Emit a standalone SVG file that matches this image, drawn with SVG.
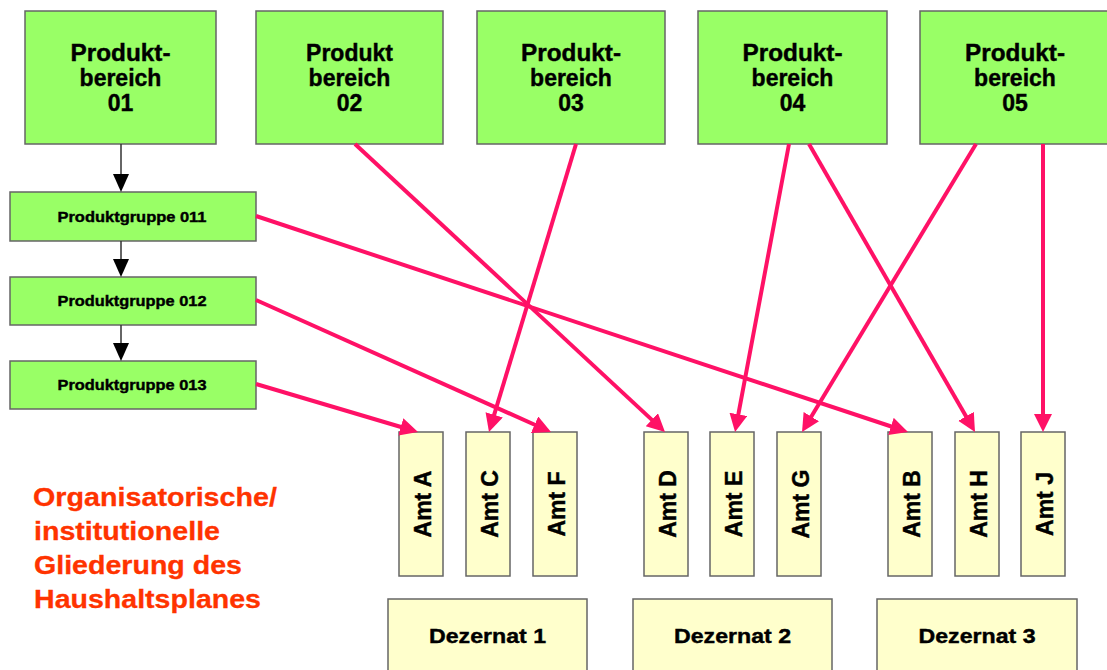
<svg xmlns="http://www.w3.org/2000/svg" width="1107" height="670" viewBox="0 0 1107 670">
<style>
  .pb rect, .pg rect { fill: #99FF66; stroke: #666666; stroke-width: 1.5; }
  .amt rect, .dez rect { fill: #FFFFCC; stroke: #666666; stroke-width: 1.5; }
  text { font-family: "Liberation Sans", Arial, sans-serif; font-weight: bold; fill: #000; stroke: #000; stroke-width: 0.4; }
  .pbt { font-size: 23px; text-anchor: middle; }
  .pgt { font-size: 14.5px; text-anchor: middle; }
  .amtt { font-size: 23px; text-anchor: middle; }
  .dezt { font-size: 20px; text-anchor: middle; }
  .note { font-size: 26px; fill: #FF3300; stroke: #FF3300; stroke-width: 0.3; }
  .red { stroke: #FF1166; stroke-width: 4; fill: none; marker-end: url(#ra); }
  .blk { stroke: #333333; stroke-width: 1.5; fill: none; marker-end: url(#ba); }
</style>
<defs>
  <marker id="ra" markerUnits="userSpaceOnUse" markerWidth="20" markerHeight="20" refX="2" refY="9" orient="auto">
    <path d="M0,0 L18,9 L0,18 z" fill="#FF1166"/>
  </marker>
  <marker id="ba" markerUnits="userSpaceOnUse" markerWidth="20" markerHeight="18" refX="1" refY="8" orient="auto">
    <path d="M0,0 L18,8 L0,16 z" fill="#000"/>
  </marker>
</defs>
<rect width="1107" height="670" fill="#FFFFFF"/>

<g id="pb01" class="pb"><rect x="25" y="11" width="191" height="133"/>
  <text class="pbt" x="120.5" y="61" textLength="100" lengthAdjust="spacingAndGlyphs">Produkt-</text>
  <text class="pbt" x="120.5" y="86">bereich</text>
  <text class="pbt" x="120.5" y="111">01</text></g>
<g id="pb02" class="pb"><rect x="256" y="11" width="187" height="133"/>
  <text class="pbt" x="349.5" y="61">Produkt</text>
  <text class="pbt" x="349.5" y="86">bereich</text>
  <text class="pbt" x="349.5" y="111">02</text></g>
<g id="pb03" class="pb"><rect x="477" y="11" width="188" height="133"/>
  <text class="pbt" x="571" y="61" textLength="100" lengthAdjust="spacingAndGlyphs">Produkt-</text>
  <text class="pbt" x="571" y="86">bereich</text>
  <text class="pbt" x="571" y="111">03</text></g>
<g id="pb04" class="pb"><rect x="698" y="11" width="189" height="133"/>
  <text class="pbt" x="792.5" y="61" textLength="100" lengthAdjust="spacingAndGlyphs">Produkt-</text>
  <text class="pbt" x="792.5" y="86">bereich</text>
  <text class="pbt" x="792.5" y="111">04</text></g>
<g id="pb05" class="pb"><rect x="920" y="11" width="190" height="133"/>
  <text class="pbt" x="1015" y="61" textLength="100" lengthAdjust="spacingAndGlyphs">Produkt-</text>
  <text class="pbt" x="1015" y="86">bereich</text>
  <text class="pbt" x="1015" y="111">05</text></g>

<g id="pg011" class="pg"><rect x="10" y="192" width="246" height="49"/>
  <text class="pgt" x="132" y="221.5" textLength="149" lengthAdjust="spacingAndGlyphs">Produktgruppe 011</text></g>
<g id="pg012" class="pg"><rect x="10" y="277" width="246" height="48"/>
  <text class="pgt" x="132" y="306" textLength="149" lengthAdjust="spacingAndGlyphs">Produktgruppe 012</text></g>
<g id="pg013" class="pg"><rect x="10" y="361" width="246" height="48"/>
  <text class="pgt" x="132" y="390" textLength="149" lengthAdjust="spacingAndGlyphs">Produktgruppe 013</text></g>

<g id="amtA" class="amt"><rect x="399" y="432" width="44" height="144"/><text class="amtt" transform="translate(431,504) rotate(-90)">Amt A</text></g>
<g id="amtC" class="amt"><rect x="466" y="432" width="44" height="144"/><text class="amtt" transform="translate(498,504) rotate(-90)">Amt C</text></g>
<g id="amtF" class="amt"><rect x="533" y="432" width="44" height="144"/><text class="amtt" transform="translate(565,504) rotate(-90)">Amt F</text></g>
<g id="amtD" class="amt"><rect x="644" y="432" width="44" height="144"/><text class="amtt" transform="translate(676,504) rotate(-90)">Amt D</text></g>
<g id="amtE" class="amt"><rect x="710" y="432" width="44" height="144"/><text class="amtt" transform="translate(742,504) rotate(-90)">Amt E</text></g>
<g id="amtG" class="amt"><rect x="777" y="432" width="44" height="144"/><text class="amtt" transform="translate(809,504) rotate(-90)">Amt G</text></g>
<g id="amtB" class="amt"><rect x="888" y="432" width="44" height="144"/><text class="amtt" transform="translate(920,504) rotate(-90)">Amt B</text></g>
<g id="amtH" class="amt"><rect x="955" y="432" width="44" height="144"/><text class="amtt" transform="translate(987,504) rotate(-90)">Amt H</text></g>
<g id="amtJ" class="amt"><rect x="1021" y="432" width="44" height="144"/><text class="amtt" transform="translate(1053,504) rotate(-90)">Amt J</text></g>

<g id="dez1" class="dez"><rect x="388" y="599" width="199" height="80"/><text class="dezt" x="487.5" y="643" textLength="117" lengthAdjust="spacingAndGlyphs">Dezernat 1</text></g>
<g id="dez2" class="dez"><rect x="633" y="599" width="199" height="80"/><text class="dezt" x="732.5" y="643" textLength="117" lengthAdjust="spacingAndGlyphs">Dezernat 2</text></g>
<g id="dez3" class="dez"><rect x="877" y="599" width="200" height="80"/><text class="dezt" x="977" y="643" textLength="117" lengthAdjust="spacingAndGlyphs">Dezernat 3</text></g>

<g id="note">
  <text class="note" x="33" y="506" textLength="244" lengthAdjust="spacingAndGlyphs">Organisatorische/</text>
  <text class="note" x="34" y="540" textLength="186" lengthAdjust="spacingAndGlyphs">institutionelle</text>
  <text class="note" x="34" y="574" textLength="208" lengthAdjust="spacingAndGlyphs">Gliederung des</text>
  <text class="note" x="34" y="608" textLength="227" lengthAdjust="spacingAndGlyphs">Haushaltsplanes</text>
</g>

<g id="connectors">
  <line class="blk" x1="121" y1="144" x2="121" y2="175"/>
  <line class="blk" x1="121" y1="241" x2="121" y2="260"/>
  <line class="blk" x1="121" y1="325" x2="121" y2="344"/>
  <line class="red" x1="256" y1="216" x2="892.8" y2="427.0"/>
  <line class="red" x1="256" y1="300" x2="536.4" y2="425.5"/>
  <line class="red" x1="256" y1="384" x2="402.7" y2="427.5"/>
  <line class="red" x1="355" y1="144" x2="653.3" y2="421.1"/>
  <line class="red" x1="576" y1="144" x2="493.6" y2="416.7"/>
  <line class="red" x1="789" y1="144" x2="738.0" y2="416.3"/>
  <line class="red" x1="809" y1="144" x2="967.0" y2="418.1"/>
  <line class="red" x1="976" y1="144" x2="810.3" y2="418.3"/>
  <line class="red" x1="1043" y1="144" x2="1043" y2="416"/>
</g>
</svg>
